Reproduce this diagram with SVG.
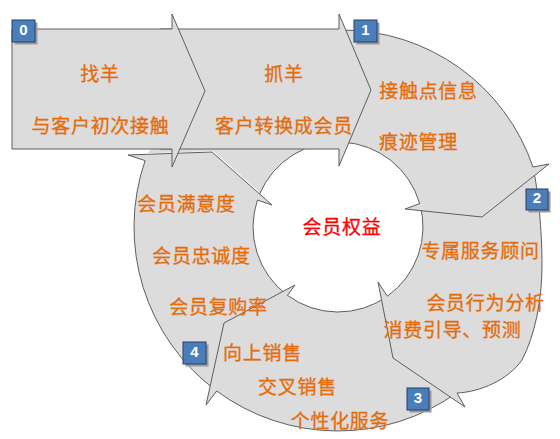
<svg xmlns="http://www.w3.org/2000/svg" width="560" height="439" viewBox="0 0 560 439">
<style>
.fill{fill:#DCDCDC;stroke:none}
.edge{fill:none;stroke:#5E5E5E;stroke-width:1;stroke-linejoin:miter}
.shape{fill:#DCDCDC;stroke:#5E5E5E;stroke-width:1}
.t{font-family:"Noto Sans CJK SC","Noto Sans",sans-serif;font-size:19px;letter-spacing:0.7px;fill:#E46C0A;stroke:#E46C0A;stroke-width:0.3px;text-anchor:middle}
.red{fill:#FF0000;stroke:#FF0000}
.shadow{fill:#9A9A9A}
.box{fill:#4A7EBB;stroke:#24416B;stroke-width:1}
.num{font-family:"Liberation Sans",Arial,sans-serif;font-size:15px;font-weight:bold;fill:#FFFFFF;text-anchor:middle}
</style>
<rect width="560" height="439" fill="#FFFFFF"/>

<!-- ring segment 4 (left) -->
<g id="seg4">
<path class="fill" d="M216.7,391 A204,204 0 0 1 145.1,160.6 L128,155 L212,152 L272,205 L257.4,200.1 A85,85 0 0 0 287.4,295.3 Z"/>
<path class="edge" d="M216.7,391 A204,204 0 0 1 145.1,160.6 L128,155 L212,152 L272,205 L257.4,200.1 A85,85 0 0 0 287.4,295.3"/>
</g>

<!-- ring segment 3 (bottom) -->
<g id="seg3">
<path class="fill" d="M456.5,393 A204,204 0 0 1 216.7,391 L206,405 L224,323 L295,285 L287.4,295.3 A85,85 0 0 0 387.4,296.2 Z"/>
<path class="edge" d="M456.5,393 A204,204 0 0 1 216.7,391 L206,405 L224,323 L295,285 L287.4,295.3 A85,85 0 0 0 387.4,296.2"/>
</g>

<!-- ring segment 2 (right) -->
<g id="seg2">
<path class="fill" d="M533,167 C538,190 542,230 542,265 C542,300 535,335 522,360 C508,380 480,392 457,393 L465,407 L393,358 L378,282 L387.4,296.2 A85,85 0 0 0 419.7,203.6 Z"/>
<path class="edge" d="M533,167 C538,190 542,230 542,265 C542,300 535,335 522,360 C508,380 480,392 457,393 L465,407 L393,358 L378,282 L387.4,296.2 A85,85 0 0 0 419.7,203.6"/>
</g>

<!-- ring segment 1 (top right) -->
<g id="seg1">
<path class="fill" d="M147.6,153.2 L190,100 L330,100 L342,30 A202,202 0 0 1 533,167 L549,164 L482,217 L405,209 L419.7,203.6 A85,85 0 0 0 260.2,192.7 L213,151 Z"/>
<path class="edge" d="M342,30 A202,202 0 0 1 533,167 L549,164 L482,217 L405,209 L419.7,203.6 A85,85 0 0 0 259.6,194.1"/>
</g>

<!-- horizontal arrow: 抓羊 -->
<g id="arrow-catch">
<path class="shape" d="M160,29 H339 V14 L371,90 L339,166 V149 H160 Z"/>
</g>

<!-- horizontal arrow: 找羊 -->
<g id="arrow-find">
<path class="shape" d="M12,29 H172 V14 L205,91 L172,167 V149 H12 Z"/>
</g>

<!-- labels -->
<g id="label-find">
<text class="t" x="100" y="80.5">找羊</text>
<text class="t" x="100.5" y="132.5">与客户初次接触</text>
</g>
<g id="label-catch">
<text class="t" x="284" y="80.5">抓羊</text>
<text class="t" x="284" y="132.5">客户转换成会员</text>
</g>
<g id="label-seg1">
<text class="t" x="428.5" y="98">接触点信息</text>
<text class="t" x="418.5" y="148.5">痕迹管理</text>
</g>
<g id="label-seg2">
<text class="t" x="480.5" y="257.5">专属服务顾问</text>
<text class="t" x="485.5" y="309.5">会员行为分析</text>
<text class="t" x="452.5" y="337">消费引导、预测</text>
</g>
<g id="label-seg3">
<text class="t" x="262.5" y="359.5">向上销售</text>
<text class="t" x="297.5" y="394">交叉销售</text>
<text class="t" x="340" y="428">个性化服务</text>
</g>
<g id="label-seg4">
<text class="t" x="186.5" y="211">会员满意度</text>
<text class="t" x="201.5" y="262.5">会员忠诚度</text>
<text class="t" x="218.5" y="314">会员复购率</text>
</g>
<g id="center">
<text class="t red" x="342" y="233.5">会员权益</text>
</g>

<!-- step badges -->
<g id="badge0">
<rect class="shadow" x="14.5" y="22.5" width="23" height="22"/>
<rect class="box" x="12" y="20" width="23" height="22"/>
<text class="num" x="23.5" y="35">0</text>
</g>
<g id="badge1">
<rect class="shadow" x="356.5" y="22.5" width="23" height="22"/>
<rect class="box" x="354" y="20" width="23" height="22"/>
<text class="num" x="365.5" y="35">1</text>
</g>
<g id="badge2">
<rect class="shadow" x="528.5" y="191.5" width="22" height="21"/>
<rect class="box" x="526" y="189" width="22" height="21"/>
<text class="num" x="537" y="203">2</text>
</g>
<g id="badge3">
<rect class="shadow" x="409.5" y="390.5" width="22" height="22"/>
<rect class="box" x="407" y="388" width="22" height="22"/>
<text class="num" x="418" y="403">3</text>
</g>
<g id="badge4">
<rect class="shadow" x="185.5" y="344.5" width="23" height="22"/>
<rect class="box" x="183" y="342" width="23" height="22"/>
<text class="num" x="194.5" y="357">4</text>
</g>
</svg>
